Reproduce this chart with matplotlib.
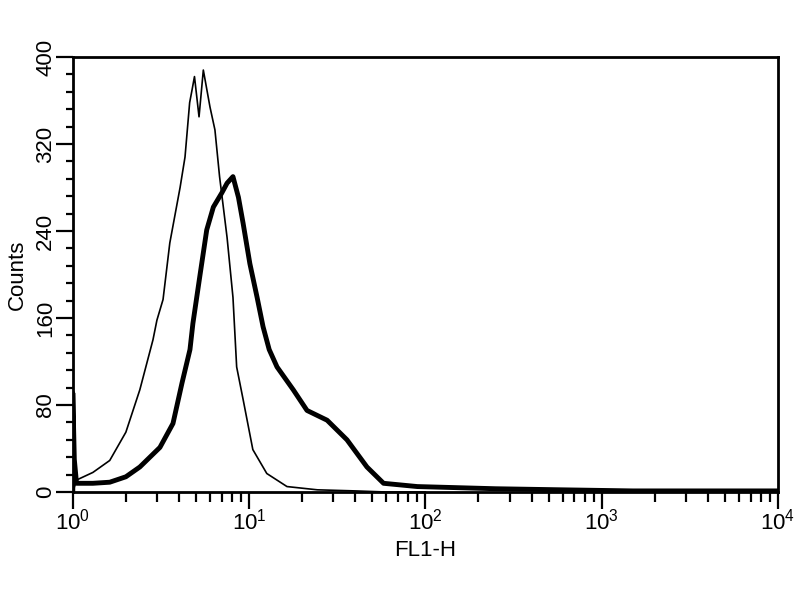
import numpy as np
import matplotlib.pyplot as plt
from matplotlib.ticker import MultipleLocator, LogLocator, NullFormatter

plt.rcParams['font.family'] = ['Liberation Sans', 'DejaVu Sans']

# control (thin line)
ctrl_x = [1.0, 1.05, 1.3, 1.62, 2.0, 2.4, 2.85, 3.0, 3.25, 3.55, 4.06, 4.33,
          4.6, 4.75, 4.9, 5.2, 5.5, 6.0, 6.4, 6.8, 7.5, 8.1, 8.5, 9.25, 10.5,
          12.6, 16.4, 24.4, 40.0, 60.0, 100.0]
ctrl_y = [0, 11, 18, 29, 55, 94, 140, 158, 177, 229, 280, 308,
          358, 370, 382, 345, 388, 354, 333, 290, 234, 179, 115, 85, 39,
          17, 5, 2, 1, 0, 0]

# stained sample (thick line)
stain_x = [1.0, 1.0, 1.02, 1.05, 1.3, 1.62, 2.0, 2.4, 3.12, 3.7, 4.16, 4.62,
           4.8, 5.25, 5.75, 6.27, 7.0, 7.5, 8.1, 8.7, 9.25, 10.1, 11.1,
           12.0, 13.0, 14.4, 17.8, 21.3, 27.7, 35.9, 46.6, 57.9, 90.0,
           150.0, 250.0, 600.0, 1500.0, 4000.0, 10000.0]
stain_y = [0, 91, 30, 8, 8, 9, 14, 23, 41, 63, 100, 131,
           155, 198, 241, 262, 275, 284, 290, 271, 247, 210, 179,
           152, 131, 115, 94, 75, 66, 48, 23, 8, 5,
           4, 3, 2, 1, 1, 1]

fig = plt.figure(figsize=(8, 6), dpi=100)
ax = fig.add_axes([0.091, 0.18, 0.8815, 0.725])

ax.plot(ctrl_x, ctrl_y, color='black', linewidth=1.2)
ax.plot(stain_x, stain_y, color='black', linewidth=3.5)

ax.set_xscale('log')
ax.set_xlim(1, 1e4)
ax.set_ylim(0, 400)
ax.set_yticks([0, 80, 160, 240, 320, 400])
ax.yaxis.set_minor_locator(MultipleLocator(16))
ax.xaxis.set_minor_locator(LogLocator(base=10, subs=np.arange(2, 10)))
ax.xaxis.set_minor_formatter(NullFormatter())

ax.tick_params(axis='y', which='major', direction='out', width=1.6, length=12,
               labelsize=16, pad=0)
ax.tick_params(axis='y', which='minor', direction='out', width=1.6, length=5)
ax.tick_params(axis='x', which='major', direction='out', width=1.6, length=12,
               labelsize=16, pad=0)
ax.tick_params(axis='x', which='minor', direction='out', width=1.6, length=7)
plt.setp(ax.get_yticklabels(), rotation=90, va='center')

for s in ax.spines.values():
    s.set_linewidth(2)

ax.set_xlabel('FL1-H', fontsize=16, labelpad=4)
ax.set_ylabel('Counts', fontsize=16)
ax.yaxis.set_label_coords(-0.064, 0.5)

fig.savefig('out.png', dpi=100)
